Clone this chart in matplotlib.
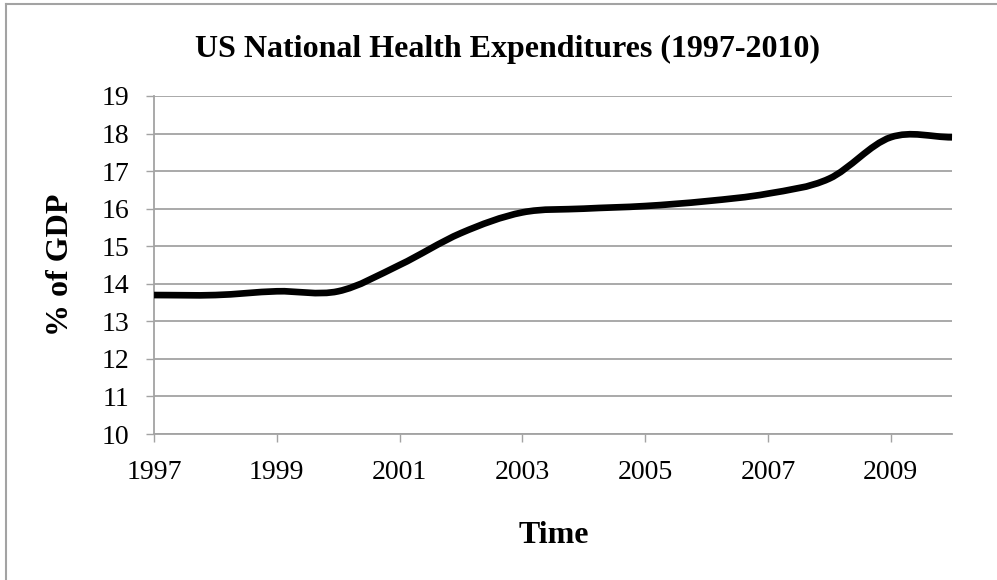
import numpy as np
import matplotlib
matplotlib.use('Agg')
import matplotlib.pyplot as plt
from matplotlib.path import Path
from matplotlib.patches import PathPatch
from matplotlib.lines import Line2D

# podaci ocitani sa grafika
years = [1997, 1998, 1999, 2000, 2001, 2002, 2003, 2004, 2005, 2006, 2007, 2008, 2009, 2010]
gdp_share = [13.7, 13.7, 13.8, 13.8, 14.5, 15.35, 15.9, 16.0, 16.07, 16.2, 16.4, 16.8, 17.9, 17.9]
xtick_years = [1997, 1999, 2001, 2003, 2005, 2007, 2009]
yticks = list(range(10, 20))

title = 'US National Health Expenditures (1997-2010)'
xlabel = 'Time'
ylabel = '% of GDP'

grid_col = '#a3a3a3'
plt.rcParams['font.family'] = ['Liberation Serif', 'DejaVu Serif']

fig = plt.figure(figsize=(9.97, 5.80), dpi=100)
ax = fig.add_axes([0.1545, 0.2517, 0.8004, 0.5828])

# Excel-ova "smoothed line": Bezier krive kroz tacke
pts = np.column_stack([years, gdp_share]).astype(float)
n = len(pts)
tang = np.zeros_like(pts)
tang[1:-1] = (pts[2:] - pts[:-2]) / 2
tang[0] = pts[1] - pts[0]
tang[-1] = pts[-1] - pts[-2]
verts = [tuple(pts[0])]
codes = [Path.MOVETO]
for i in range(n - 1):
    verts += [tuple(pts[i] + tang[i] / 3), tuple(pts[i + 1] - tang[i + 1] / 3), tuple(pts[i + 1])]
    codes += [Path.CURVE4] * 3
ax.add_patch(PathPatch(Path(verts, codes), fill=False, edgecolor='black', lw=4.8,
                       capstyle='butt', joinstyle='round', zorder=3, clip_on=False))

ax.set_xlim(1997, 2010)
ax.set_ylim(10, 19)
ax.set_xticks(xtick_years)
ax.set_xticklabels([str(y) for y in xtick_years])
ax.set_yticks(yticks)
ax.yaxis.grid(True, color=grid_col, lw=1.3)
ax.set_axisbelow(True)

for s in ['top', 'right']:
    ax.spines[s].set_visible(False)
for s in ['left', 'bottom']:
    ax.spines[s].set_color(grid_col)
    ax.spines[s].set_linewidth(1.3)

ax.tick_params(axis='both', direction='out', length=5.8, width=1.0, color=grid_col,
               labelsize=20, labelcolor='black')
ax.tick_params(axis='x', pad=13)
ax.tick_params(axis='y', pad=12)

fig.text(0.5095, 1 - 57.3 / 580, title, ha='center', va='baseline',
         fontsize=23, fontweight='bold')
fig.text(553.5 / 997, 1 - 543.3 / 580, xlabel, ha='center', va='baseline',
         fontsize=23, fontweight='bold')
fig.text(60 / 997, 1 - 265 / 580, ylabel, ha='center', va='center', rotation=90,
         fontsize=23, fontweight='bold')

# okvir grafikona (desna i donja ivica su odsecene)
fig.add_artist(Line2D([5.7 / 997, 5.7 / 997], [0, 1 - 4.3 / 580], color=grid_col, lw=1.5))
fig.add_artist(Line2D([5.7 / 997, 1], [1 - 4.3 / 580, 1 - 4.3 / 580], color=grid_col, lw=1.5))

fig.savefig('out.png', dpi=100, facecolor='white')
